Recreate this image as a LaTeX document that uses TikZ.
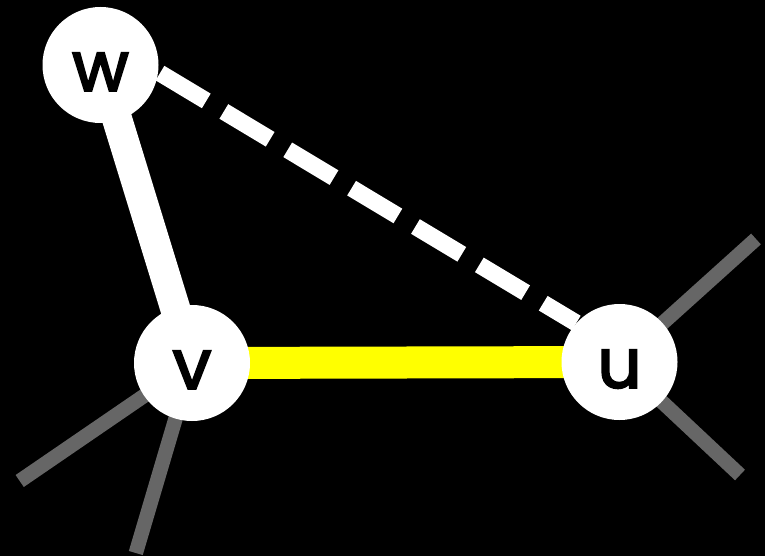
\documentclass[tikz,border=0pt]{standalone}
\usepackage{fontspec}
\setmainfont{Poppins}
\newfontfamily\vertexfont{Poppins}[FakeBold=3]
\pgfdeclarelayer{canvas}
\pgfdeclarelayer{links}
\pgfsetlayers{canvas,links,main}
\definecolor{stubgray}{HTML}{666666}
\definecolor{hiyellow}{HTML}{FFFF00}
\begin{document}
\begin{tikzpicture}[x=1pt,y=-1pt,
  vertex/.style={circle, fill=white, draw=none, minimum size=116pt, inner sep=0pt,
    text=black, font=\vertexfont\fontsize{69}{69}\selectfont, text height=51.5pt, text depth=0pt},
  treeedge/.style={white, line width=30pt},
  matchedge/.style={hiyellow, line width=32pt},
  backedge/.style={white, line width=17pt, dash pattern=on 54pt off 20.5pt, dash phase=72.5pt},
  stub/.style={stubgray, line width=14.5pt}]
  % black canvas, also fixing the page size
  \begin{pgfonlayer}{canvas}
    \fill[black] (0,0) rectangle (765,556);
  \end{pgfonlayer}
  \path[use as bounding box] (0,0) rectangle (765,556);

  % vertices
  \node[vertex] (w) at (100.5,65) {w};
  \node[vertex] (v) at (192,363) {v};
  \node[vertex] (u) at (619.5,362) {u};

  % loose ends of the grey stubs
  \coordinate (v1) at (19.7,481);
  \coordinate (v2) at (135.8,553);
  \coordinate (u1) at (756,239);
  \coordinate (u2) at (740,475);

  % edges, drawn beneath the vertices
  \begin{pgfonlayer}{links}
    \draw[stub] (v.center) -- (v1);
    \draw[stub] (v.center) -- (v2);
    \draw[stub] (u.center) -- (u1);
    \draw[stub] (u.center) -- (u2);
    \draw[treeedge] (w.center) -- (v.center);
    \draw[matchedge] (v.center) -- (u.center);
    \draw[backedge] (w.-7) -- (u.138);
  \end{pgfonlayer}
\end{tikzpicture}
\end{document}
